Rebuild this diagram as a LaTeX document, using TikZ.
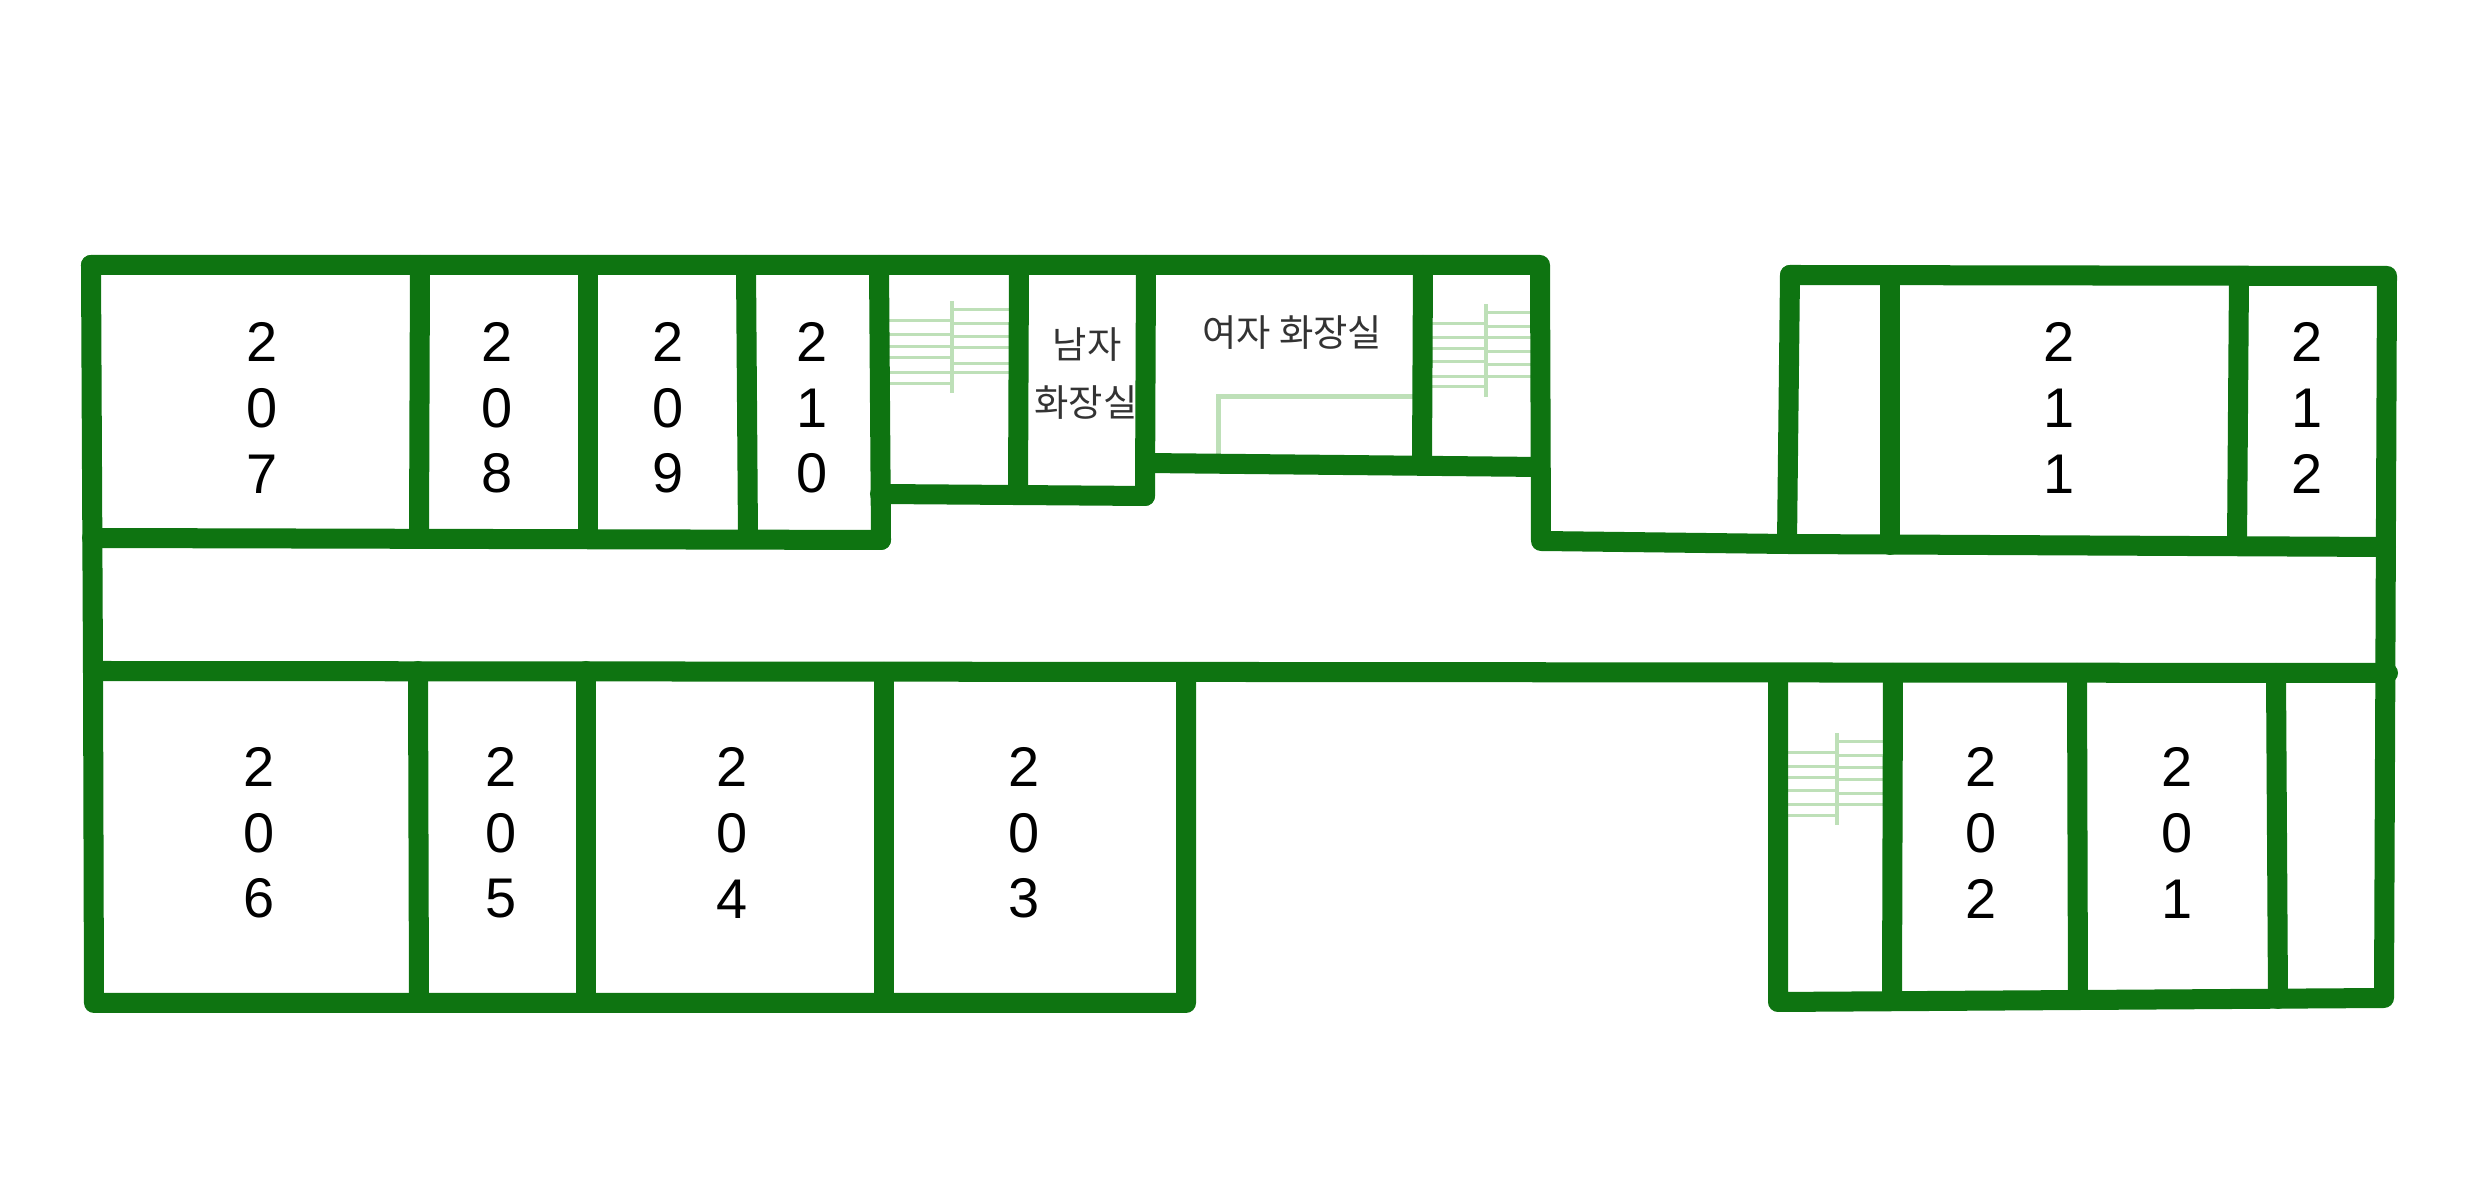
\documentclass[tikz,border=0pt]{standalone}
\usepackage{fontspec}
\setmainfont{Liberation Sans}
\newfontfamily\korfont{Noto Sans CJK KR}
\definecolor{wallgreen}{RGB}{14,116,17}
\definecolor{stairgreen}{RGB}{190,224,184}
\tikzset{
  wall/.style={line width=2mm, wallgreen, line cap=round, line join=round},
  stair/.style={line width=0.3mm, stairgreen},
  spine/.style={line width=0.4mm, stairgreen},
  roomno/.style={align=center, inner sep=0pt, font=\fontsize{15.9}{18.66}\selectfont},
  wclabel/.style={inner sep=0pt, font=\korfont\fontsize{10.6}{12}\selectfont, text=black!80}
}
\begin{document}
\begin{tikzpicture}[x=0.01cm, y=-0.01cm]
    \useasboundingbox (0,0) rectangle (2480,1204);
    % outer corners
    \coordinate (A) at (91,265);
    \coordinate (B) at (1540,265);
    \coordinate (C) at (1541,541);
    \coordinate (D) at (1787,544);
    \coordinate (E) at (1790,275);
    \coordinate (F) at (2387,276);
    \coordinate (G) at (2384,998);
    \coordinate (H) at (1778,1002);
    \coordinate (I) at (94,1003);
    \coordinate (J) at (1186,1003);
    % corridor
    \coordinate (K) at (93,671);
    \coordinate (L) at (2388,673);
    \coordinate (M) at (1186,672);
    \coordinate (N) at (1778,673);
    \coordinate (O) at (92,538);
    \coordinate (P) at (881,540);
    \coordinate (Q) at (2386,547);
    % stairs
    \draw [stair] (889,321) -- (952,321) (889,335) -- (952,335) (889,347) -- (952,347);
    \draw [stair] (889,358) -- (952,358) (889,373) -- (952,373) (889,384) -- (952,384);
    \draw [stair] (952,310) -- (1012,310) (952,324) -- (1012,324) (952,337) -- (1012,337);
    \draw [stair] (952,348) -- (1012,348) (952,364) -- (1012,364) (952,373) -- (1012,373);
    \draw [spine] (952,301) -- (952,393);
    \draw [stair] (1430,324) -- (1486,324) (1430,338) -- (1486,338) (1430,349) -- (1486,349);
    \draw [stair] (1430,362) -- (1486,362) (1430,377) -- (1486,377) (1430,387) -- (1486,387);
    \draw [stair] (1486,313) -- (1534,313) (1486,327) -- (1534,327) (1486,338) -- (1534,338);
    \draw [stair] (1486,352) -- (1534,352) (1486,365) -- (1534,365) (1486,377) -- (1534,377);
    \draw [spine] (1486,304) -- (1486,397);
    \draw [stair] (1784,753) -- (1837,753) (1784,767) -- (1837,767) (1784,778) -- (1837,778);
    \draw [stair] (1784,791) -- (1837,791) (1784,805) -- (1837,805) (1784,816) -- (1837,816);
    \draw [stair] (1837,742) -- (1888,742) (1837,756) -- (1888,756) (1837,768) -- (1888,768);
    \draw [stair] (1837,780) -- (1888,780) (1837,794) -- (1888,794) (1837,805) -- (1888,805);
    \draw [spine] (1837,733) -- (1837,825);
    % partition in the washroom
    \draw [spine, line width=0.5mm] (1218,463) -- (1218,397) -- (1423,397);
    % outline
    \draw [wall] (A) -- (B) -- (C) -- (D);
    \draw [wall] (E) -- (F) -- (G) -- (H) -- (N);
    \draw [wall] (D) -- (E);
    \draw [wall] (A) -- (K) -- (I) -- (J) -- (M);
    \draw [wall] (K) -- (L);
    \draw [wall] (O) -- (P);
    \draw [wall] (D) -- (Q);
    % upper rooms
    \draw [wall] (420,265) -- (419,538);
    \draw [wall] (588,265) -- (588,539);
    \draw [wall] (746,265) -- (748,539);
    \draw [wall] (879,265) -- (P);
    \draw [wall] (880,494) -- (1145,496);
    \draw [wall] (1019,265) -- (1018,495);
    \draw [wall] (1146,265) -- (1145,496);
    \draw [wall] (1145,463) -- (1540,467);
    \draw [wall] (1423,265) -- (1422,465);
    \draw [wall] (1890,275) -- (1890,545);
    \draw [wall] (2239,276) -- (2237,546);
    % lower rooms
    \draw [wall] (418,671) -- (419,1003);
    \draw [wall] (586,671) -- (586,1003);
    \draw [wall] (884,672) -- (884,1003);
    \draw [wall] (1893,673) -- (1892,1001);
    \draw [wall] (2077,673) -- (2078,1000);
    \draw [wall] (2276,673) -- (2278,999);
    % labels
    \node [roomno] (r207) at (262,408) {2\\0\\7};
    \node [roomno] (r208) at (497,408) {2\\0\\8};
    \node [roomno] (r209) at (668,408) {2\\0\\9};
    \node [roomno] (r210) at (812,408) {2\\1\\0};
    \node [roomno] (r211) at (2059,408) {2\\1\\1};
    \node [roomno] (r212) at (2307,408) {2\\1\\2};
    \node [roomno] (r206) at (259,833) {2\\0\\6};
    \node [roomno] (r205) at (501,833) {2\\0\\5};
    \node [roomno] (r204) at (732,833) {2\\0\\4};
    \node [roomno] (r203) at (1024,833) {2\\0\\3};
    \node [roomno] (r202) at (1981,833) {2\\0\\2};
    \node [roomno] (r201) at (2177,833) {2\\0\\1};
    \node [wclabel] (men1) at (1087,345) {남자};
    \node [wclabel] (men2) at (1086,403) {화장실};
    \node [wclabel] (women) at (1292,333) {여자 화장실};
\end{tikzpicture}
\end{document}
